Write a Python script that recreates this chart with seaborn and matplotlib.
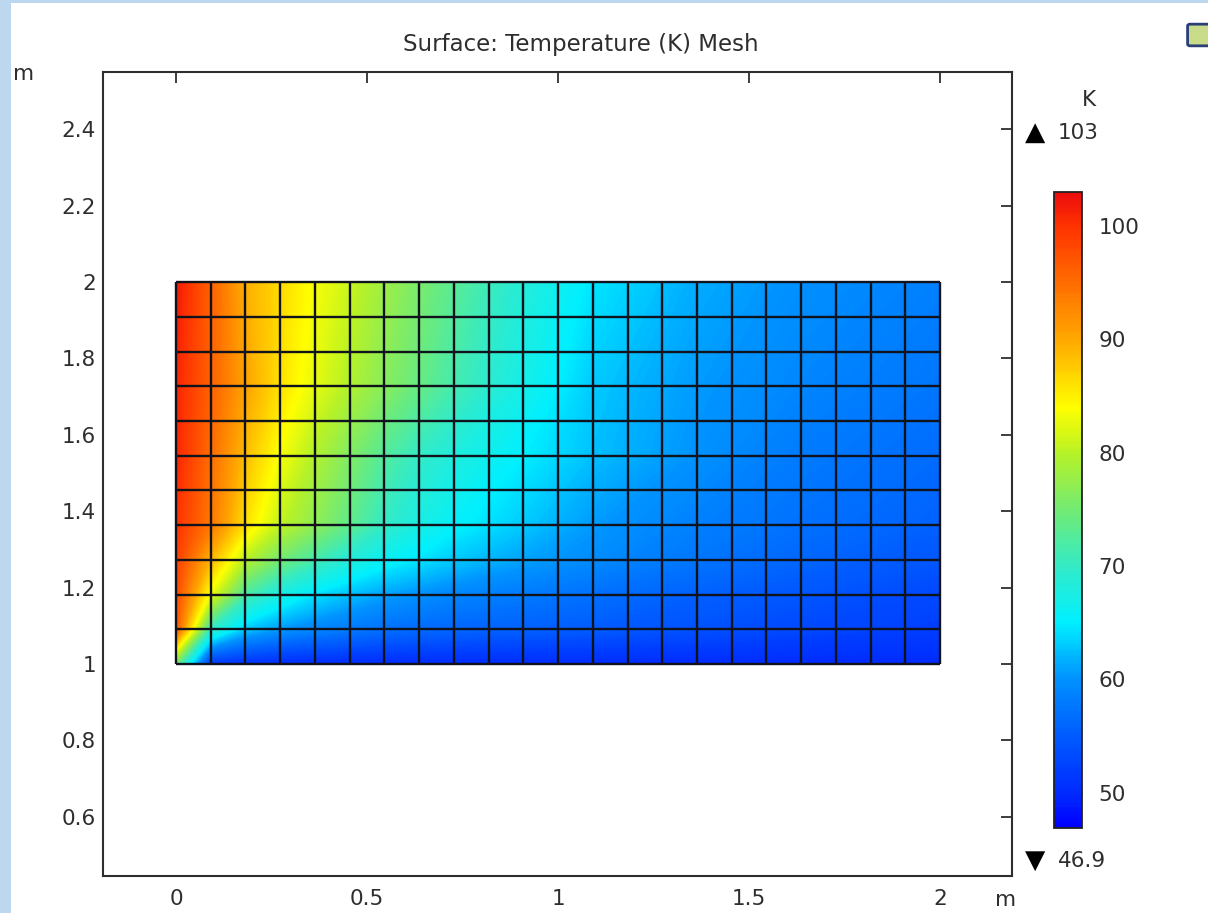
import numpy as np
import matplotlib
matplotlib.use("Agg")
import matplotlib.pyplot as plt
from matplotlib.colors import LinearSegmentedColormap, Normalize
from matplotlib.patches import Rectangle, FancyBboxPatch
import seaborn as sns

# ---- data -------------------------------------------------------------
# Rectangular domain [0, 2] x [1, 2] m, meshed with 22 x 11 square elements
domain_x = (0.0, 2.0)
domain_y = (1.0, 2.0)
n_elem_x = 22
n_elem_y = 11

# Mesh-node indices at which the temperature field is tabulated
sample_cols = [0, 1, 2, 3, 4, 5, 6, 7, 8, 10, 12, 15, 18, 22]
sample_rows = [0, 1, 2, 3, 4, 6, 8, 11]

# Nodal temperature (K); one row per sample_rows entry, bottom to top
temp_y100 = [75, 51, 50.5, 50, 50, 50, 50, 50, 50, 50, 50, 50, 50, 50]
temp_y109 = [97, 70, 63, 60.5, 59, 58, 57, 56.5, 56, 55.5, 55, 54, 53, 52]
temp_y118 = [98, 83, 72, 67.5, 64.5, 62.5, 61, 60, 59, 58, 57, 55.5, 54.5, 53]
temp_y127 = [99, 89, 80, 75, 71.5, 68.5, 66, 64.5, 63, 61, 59.5, 57.5, 56, 54.5]
temp_y136 = [100, 94, 86, 80.5, 77, 73.5, 70, 67.5, 65.5, 63, 60.5, 58.5, 57, 55.5]
temp_y155 = [101, 95, 88.5, 83.5, 79.5, 76, 72.5, 70, 68, 65, 62.5, 60, 58, 56.5]
temp_y173 = [101, 96, 90.5, 86, 82.5, 79.5, 76.5, 74, 71.5, 67, 63, 60.5, 59, 57.5]
temp_y200 = [102, 96, 89.5, 86.5, 83.5, 81, 78, 75.5, 73, 68.5, 64.5, 61.5, 59.8, 58.5]

t_min, t_max = 46.9, 103.0
cbar_ticks = [50, 60, 70, 80, 90, 100]
x_ticks = [0, 0.5, 1, 1.5, 2]
y_ticks = [0.6, 0.8, 1.0, 1.2, 1.4, 1.6, 1.8, 2.0, 2.2, 2.4]

# ---- style ------------------------------------------------------------
sns.set_style("white")
plt.rcParams["font.family"] = ["DejaVu Sans"]
text_color = "#2e2e2e"
fs = 15.5

# Rainbow colour table (temperature anchor, colour)
rainbow = [
    (46.9, (0.0, 0.0, 1.0)),
    (50.0, (0.0, 0.17, 1.0)),
    (55.0, (0.0, 0.36, 1.0)),
    (60.0, (0.0, 0.57, 1.0)),
    (65.0, (0.0, 0.94, 1.0)),
    (70.0, (0.2, 0.92, 0.78)),
    (75.0, (0.45, 0.92, 0.45)),
    (80.0, (0.72, 0.95, 0.15)),
    (84.0, (1.0, 1.0, 0.0)),
    (90.0, (1.0, 0.66, 0.0)),
    (95.0, (1.0, 0.43, 0.0)),
    (100.0, (1.0, 0.2, 0.0)),
    (103.0, (0.93, 0.05, 0.05)),
]
cmap = LinearSegmentedColormap.from_list(
    "rainbow_k", [((t - t_min) / (t_max - t_min), c) for t, c in rainbow])
norm = Normalize(vmin=t_min, vmax=t_max)

# ---- figure -----------------------------------------------------------
W, H, DPI = 1208, 913, 100
fig = plt.figure(figsize=(W / DPI, H / DPI), dpi=DPI)
fig.patch.set_facecolor("white")

# light-blue window frame
frame_col = "#bdd7ee"
fig.patches.append(Rectangle((0, 0), 11 / W, 1, transform=fig.transFigure,
                             facecolor=frame_col, edgecolor="none", zorder=-5))
fig.patches.append(Rectangle((0, 1 - 3 / H), 1, 3 / H, transform=fig.transFigure,
                             facecolor=frame_col, edgecolor="none", zorder=-5))
# toolbar icon in the corner
fig.patches.append(FancyBboxPatch((1190 / W, 1 - 44 / H), 24 / W, 18 / H,
                                  boxstyle="round,pad=0.002",
                                  transform=fig.transFigure,
                                  facecolor="#c8dc8a", edgecolor="#2b3f78",
                                  linewidth=2.0, zorder=3))

ax = fig.add_axes([103 / W, 1 - 876 / H, 909 / W, 804 / H])

dx = (domain_x[1] - domain_x[0]) / n_elem_x
dy = (domain_y[1] - domain_y[0]) / n_elem_y
xs = domain_x[0] + np.array(sample_cols) * dx
ys = domain_y[0] + np.array(sample_rows) * dy
T = np.array([temp_y100, temp_y109, temp_y118, temp_y127,
              temp_y136, temp_y155, temp_y173, temp_y200])
X, Y = np.meshgrid(xs, ys)

# smooth surface plot: many filled bands so colours follow the field
levels = np.linspace(t_min, t_max, 241)
surf = ax.contourf(X, Y, T, levels=levels, cmap=cmap, norm=norm,
                   antialiased=False, zorder=1)
ax.contour(X, Y, T, levels=levels, cmap=cmap, norm=norm,
           linewidths=0.8, zorder=1)

# element edges
mesh_x = np.linspace(domain_x[0], domain_x[1], n_elem_x + 1)
mesh_y = np.linspace(domain_y[0], domain_y[1], n_elem_y + 1)
ax.vlines(mesh_x, domain_y[0], domain_y[1], colors="#10121c", linewidth=1.7, zorder=2)
ax.hlines(mesh_y, domain_x[0], domain_x[1], colors="#10121c", linewidth=1.7, zorder=2)

ax.set_xlim(-0.191, 2.188)
ax.set_ylim(0.445, 2.550)
ax.set_xticks(x_ticks)
ax.set_xticklabels([f"{v:g}" for v in x_ticks])
ax.set_yticks(y_ticks)
ax.set_yticklabels([f"{v:g}" for v in y_ticks])
ax.tick_params(direction="in", length=8, width=1.3, colors=text_color,
               labelsize=fs, top=True, right=True, pad=5)
ax.tick_params(axis="x", pad=9)
for s in ax.spines.values():
    s.set_color(text_color)
    s.set_linewidth(1.5)
ax.grid(False)

fig.text(581 / W, 1 - 44 / H, "Surface: Temperature (K) Mesh", ha="center",
         va="center", fontsize=16.5, color=text_color)
fig.text(24 / W, 1 - 74 / H, "m", ha="center", va="center", fontsize=fs,
         color=text_color)
fig.text(1006 / W, 1 - 900 / H, "m", ha="center", va="center", fontsize=fs,
         color=text_color)

# colour legend
cax = fig.add_axes([1054 / W, 1 - 828 / H, 28 / W, 636 / H])
cb = fig.colorbar(surf, cax=cax, ticks=cbar_ticks)
cb.outline.set_edgecolor("#222222")
cb.outline.set_linewidth(1.3)
cax.tick_params(direction="in", length=4, width=1.0, colors=text_color,
                labelsize=fs, left=True, right=True, pad=12)
cax.set_yticklabels([f"{v:g}" for v in cbar_ticks])

fig.text(1089 / W, 1 - 100 / H, "K", ha="center", va="center", fontsize=fs,
         color=text_color)
fig.text(1025 / W, 1 - 133 / H, "\u25b2", ha="left", va="center", fontsize=19,
         color="black")
fig.text(1058 / W, 1 - 133 / H, f"{t_max:g}", ha="left", va="center",
         fontsize=fs, color=text_color)
fig.text(1025 / W, 1 - 861 / H, "\u25bc", ha="left", va="center", fontsize=19,
         color="black")
fig.text(1058 / W, 1 - 861 / H, f"{t_min:g}", ha="left", va="center",
         fontsize=fs, color=text_color)

fig.savefig("out.png", dpi=DPI)
